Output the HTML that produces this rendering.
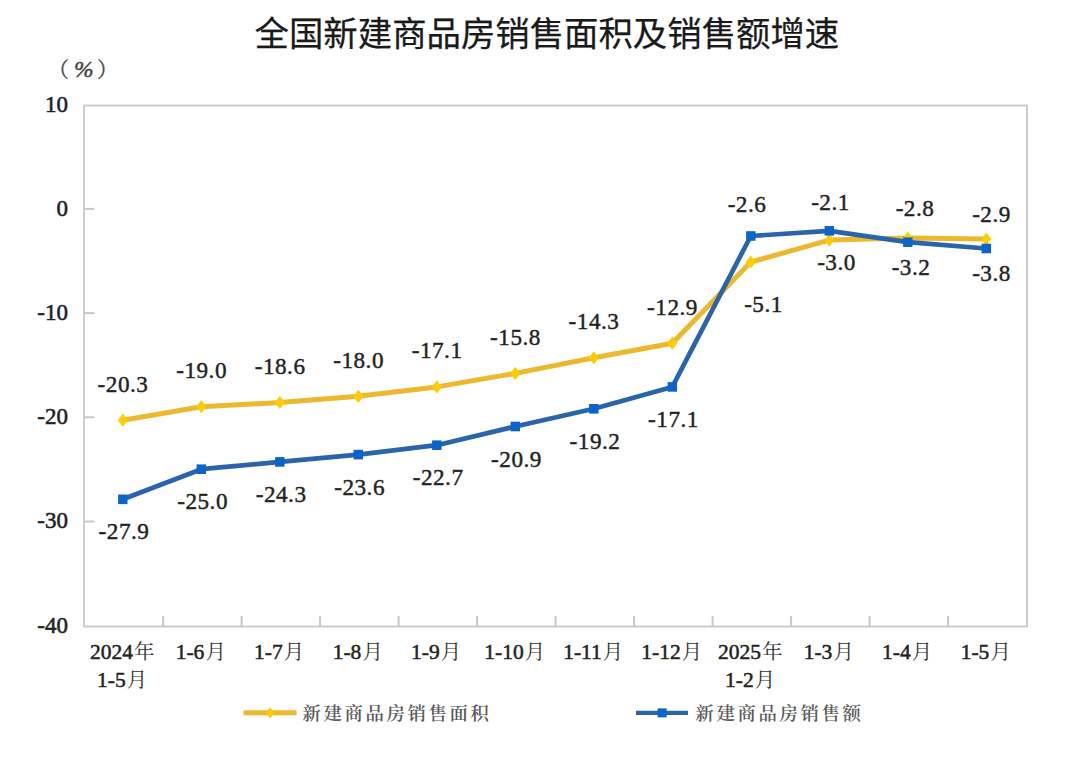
<!DOCTYPE html>
<html lang="zh-CN"><head><meta charset="utf-8"><title>全国新建商品房销售面积及销售额增速</title>
<style>
html,body{margin:0;padding:0;background:#fff;}
body{width:1080px;height:757px;overflow:hidden;}
svg{display:block;}
.t{font-family:"Noto Sans CJK SC","WenQuanYi Zen Hei",sans-serif;}
.n{font-family:"Liberation Serif","Noto Serif CJK SC",serif;}
.c{font-family:"Noto Serif CJK SC","Liberation Serif",serif;}
</style></head><body>
<svg width="1080" height="757" viewBox="0 0 1080 757">
<rect width="1080" height="757" fill="#fff"/>
<text class="t" x="546.9" y="46" font-size="34.4" text-anchor="middle" fill="#1a1a1a" stroke="#1a1a1a" stroke-width="0.25">全国新建商品房销售面积及销售额增速</text>
<text class="c" x="48" y="76.5" font-size="21" fill="#444" stroke="#444" stroke-width="0.3">（</text>
<text class="n" x="74" y="76.6" font-size="23.5" font-style="italic" fill="#444" stroke="#444" stroke-width="0.5">%</text>
<text class="c" x="97" y="76.5" font-size="21" fill="#444" stroke="#444" stroke-width="0.3">）</text>
<rect x="84" y="105.5" width="943" height="521" fill="none" stroke="#C8C8C8" stroke-width="1.8"/>
<text class="n" x="68" y="111.6" font-size="23" text-anchor="end" fill="#222" stroke="#222" stroke-width="0.55">10</text>
<line x1="84" y1="208.9" x2="94.5" y2="208.9" stroke="#C8C8C8" stroke-width="2"/>
<text class="n" x="68" y="215.8" font-size="23" text-anchor="end" fill="#222" stroke="#222" stroke-width="0.55">0</text>
<line x1="84" y1="313.1" x2="94.5" y2="313.1" stroke="#C8C8C8" stroke-width="2"/>
<text class="n" x="68" y="320.0" font-size="23" text-anchor="end" fill="#222" stroke="#222" stroke-width="0.55">-10</text>
<line x1="84" y1="417.3" x2="94.5" y2="417.3" stroke="#C8C8C8" stroke-width="2"/>
<text class="n" x="68" y="424.2" font-size="23" text-anchor="end" fill="#222" stroke="#222" stroke-width="0.55">-20</text>
<line x1="84" y1="521.5" x2="94.5" y2="521.5" stroke="#C8C8C8" stroke-width="2"/>
<text class="n" x="68" y="528.4" font-size="23" text-anchor="end" fill="#222" stroke="#222" stroke-width="0.55">-30</text>
<text class="n" x="68" y="632.6" font-size="23" text-anchor="end" fill="#222" stroke="#222" stroke-width="0.55">-40</text>
<line x1="163.1" y1="616" x2="163.1" y2="626" stroke="#C8C8C8" stroke-width="2"/>
<line x1="241.6" y1="616" x2="241.6" y2="626" stroke="#C8C8C8" stroke-width="2"/>
<line x1="320.1" y1="616" x2="320.1" y2="626" stroke="#C8C8C8" stroke-width="2"/>
<line x1="398.6" y1="616" x2="398.6" y2="626" stroke="#C8C8C8" stroke-width="2"/>
<line x1="477.1" y1="616" x2="477.1" y2="626" stroke="#C8C8C8" stroke-width="2"/>
<line x1="555.6" y1="616" x2="555.6" y2="626" stroke="#C8C8C8" stroke-width="2"/>
<line x1="634.1" y1="616" x2="634.1" y2="626" stroke="#C8C8C8" stroke-width="2"/>
<line x1="712.6" y1="616" x2="712.6" y2="626" stroke="#C8C8C8" stroke-width="2"/>
<line x1="791.1" y1="616" x2="791.1" y2="626" stroke="#C8C8C8" stroke-width="2"/>
<line x1="869.6" y1="616" x2="869.6" y2="626" stroke="#C8C8C8" stroke-width="2"/>
<line x1="948.1" y1="616" x2="948.1" y2="626" stroke="#C8C8C8" stroke-width="2"/>
<text class="n" x="122.2" y="658.6" font-size="21.5" text-anchor="middle" fill="#222"><tspan stroke="#222" stroke-width="0.5">2024</tspan><tspan class="c" font-size="20.5" dx="1" fill="#333">年</tspan></text>
<text class="n" x="122.2" y="687.1" font-size="21.5" text-anchor="middle" fill="#222"><tspan stroke="#222" stroke-width="0.5">1-5</tspan><tspan class="c" font-size="20.5" dx="1" fill="#333">月</tspan></text>
<text class="n" x="200.8" y="658.6" font-size="21.5" text-anchor="middle" fill="#222"><tspan stroke="#222" stroke-width="0.5">1-6</tspan><tspan class="c" font-size="20.5" dx="1" fill="#333">月</tspan></text>
<text class="n" x="279.2" y="658.6" font-size="21.5" text-anchor="middle" fill="#222"><tspan stroke="#222" stroke-width="0.5">1-7</tspan><tspan class="c" font-size="20.5" dx="1" fill="#333">月</tspan></text>
<text class="n" x="357.8" y="658.6" font-size="21.5" text-anchor="middle" fill="#222"><tspan stroke="#222" stroke-width="0.5">1-8</tspan><tspan class="c" font-size="20.5" dx="1" fill="#333">月</tspan></text>
<text class="n" x="436.2" y="658.6" font-size="21.5" text-anchor="middle" fill="#222"><tspan stroke="#222" stroke-width="0.5">1-9</tspan><tspan class="c" font-size="20.5" dx="1" fill="#333">月</tspan></text>
<text class="n" x="514.8" y="658.6" font-size="21.5" text-anchor="middle" fill="#222"><tspan stroke="#222" stroke-width="0.5">1-10</tspan><tspan class="c" font-size="20.5" dx="1" fill="#333">月</tspan></text>
<text class="n" x="593.2" y="658.6" font-size="21.5" text-anchor="middle" fill="#222"><tspan stroke="#222" stroke-width="0.5">1-11</tspan><tspan class="c" font-size="20.5" dx="1" fill="#333">月</tspan></text>
<text class="n" x="671.8" y="658.6" font-size="21.5" text-anchor="middle" fill="#222"><tspan stroke="#222" stroke-width="0.5">1-12</tspan><tspan class="c" font-size="20.5" dx="1" fill="#333">月</tspan></text>
<text class="n" x="750.2" y="658.6" font-size="21.5" text-anchor="middle" fill="#222"><tspan stroke="#222" stroke-width="0.5">2025</tspan><tspan class="c" font-size="20.5" dx="1" fill="#333">年</tspan></text>
<text class="n" x="750.2" y="687.1" font-size="21.5" text-anchor="middle" fill="#222"><tspan stroke="#222" stroke-width="0.5">1-2</tspan><tspan class="c" font-size="20.5" dx="1" fill="#333">月</tspan></text>
<text class="n" x="828.8" y="658.6" font-size="21.5" text-anchor="middle" fill="#222"><tspan stroke="#222" stroke-width="0.5">1-3</tspan><tspan class="c" font-size="20.5" dx="1" fill="#333">月</tspan></text>
<text class="n" x="907.2" y="658.6" font-size="21.5" text-anchor="middle" fill="#222"><tspan stroke="#222" stroke-width="0.5">1-4</tspan><tspan class="c" font-size="20.5" dx="1" fill="#333">月</tspan></text>
<text class="n" x="985.8" y="658.6" font-size="21.5" text-anchor="middle" fill="#222"><tspan stroke="#222" stroke-width="0.5">1-5</tspan><tspan class="c" font-size="20.5" dx="1" fill="#333">月</tspan></text>
<polyline points="122.8,420.2 201.3,406.7 279.8,402.5 358.3,396.3 436.8,386.9 515.3,373.4 593.8,357.8 672.3,343.2 750.8,262.0 829.3,240.1 907.8,238.0 986.3,239.1" fill="none" stroke="#EBB82E" stroke-width="5.0" stroke-linejoin="round"/>
<polyline points="122.8,499.3 201.3,469.2 279.8,461.9 358.3,454.6 436.8,445.2 515.3,426.5 593.8,408.8 672.3,386.9 750.8,236.0 829.3,230.8 907.8,242.2 986.3,248.5" fill="none" stroke="#2A65AC" stroke-width="4.7" stroke-linejoin="round"/>
<path d="M122.8 413.6L127.8 420.2L122.8 426.8L117.8 420.2Z" fill="#FFCC00"/>
<path d="M201.3 400.1L206.3 406.7L201.3 413.3L196.3 406.7Z" fill="#FFCC00"/>
<path d="M279.8 395.9L284.8 402.5L279.8 409.1L274.8 402.5Z" fill="#FFCC00"/>
<path d="M358.3 389.7L363.3 396.3L358.3 402.9L353.3 396.3Z" fill="#FFCC00"/>
<path d="M436.8 380.3L441.8 386.9L436.8 393.5L431.8 386.9Z" fill="#FFCC00"/>
<path d="M515.3 366.8L520.3 373.4L515.3 380.0L510.3 373.4Z" fill="#FFCC00"/>
<path d="M593.8 351.2L598.8 357.8L593.8 364.4L588.8 357.8Z" fill="#FFCC00"/>
<path d="M672.3 336.6L677.3 343.2L672.3 349.8L667.3 343.2Z" fill="#FFCC00"/>
<path d="M750.8 255.4L755.8 262.0L750.8 268.6L745.8 262.0Z" fill="#FFCC00"/>
<path d="M829.3 233.5L834.3 240.1L829.3 246.7L824.3 240.1Z" fill="#FFCC00"/>
<path d="M907.8 231.4L912.8 238.0L907.8 244.6L902.8 238.0Z" fill="#FFCC00"/>
<path d="M986.3 232.5L991.3 239.1L986.3 245.7L981.3 239.1Z" fill="#FFCC00"/>
<rect x="118.1" y="494.5" width="9.4" height="9.6" fill="#0A64CC"/>
<rect x="196.6" y="464.4" width="9.4" height="9.6" fill="#0A64CC"/>
<rect x="275.1" y="457.1" width="9.4" height="9.6" fill="#0A64CC"/>
<rect x="353.6" y="449.8" width="9.4" height="9.6" fill="#0A64CC"/>
<rect x="432.1" y="440.4" width="9.4" height="9.6" fill="#0A64CC"/>
<rect x="510.6" y="421.7" width="9.4" height="9.6" fill="#0A64CC"/>
<rect x="589.1" y="404.0" width="9.4" height="9.6" fill="#0A64CC"/>
<rect x="667.6" y="382.1" width="9.4" height="9.6" fill="#0A64CC"/>
<rect x="746.1" y="231.2" width="9.4" height="9.6" fill="#0A64CC"/>
<rect x="824.6" y="226.0" width="9.4" height="9.6" fill="#0A64CC"/>
<rect x="903.1" y="237.4" width="9.4" height="9.6" fill="#0A64CC"/>
<rect x="981.6" y="243.7" width="9.4" height="9.6" fill="#0A64CC"/>
<text class="n" x="123.0" y="391.6" font-size="23.2" letter-spacing="0.5" text-anchor="middle" fill="#222" stroke="#222" stroke-width="0.42">-20.3</text>
<text class="n" x="201.6" y="378.1" font-size="23.2" letter-spacing="0.5" text-anchor="middle" fill="#222" stroke="#222" stroke-width="0.42">-19.0</text>
<text class="n" x="280.1" y="373.9" font-size="23.2" letter-spacing="0.5" text-anchor="middle" fill="#222" stroke="#222" stroke-width="0.42">-18.6</text>
<text class="n" x="358.6" y="367.7" font-size="23.2" letter-spacing="0.5" text-anchor="middle" fill="#222" stroke="#222" stroke-width="0.42">-18.0</text>
<text class="n" x="437.1" y="358.3" font-size="23.2" letter-spacing="0.5" text-anchor="middle" fill="#222" stroke="#222" stroke-width="0.42">-17.1</text>
<text class="n" x="515.5" y="344.8" font-size="23.2" letter-spacing="0.5" text-anchor="middle" fill="#222" stroke="#222" stroke-width="0.42">-15.8</text>
<text class="n" x="594.0" y="329.2" font-size="23.2" letter-spacing="0.5" text-anchor="middle" fill="#222" stroke="#222" stroke-width="0.42">-14.3</text>
<text class="n" x="672.5" y="314.6" font-size="23.2" letter-spacing="0.5" text-anchor="middle" fill="#222" stroke="#222" stroke-width="0.42">-12.9</text>
<text class="n" x="763.5" y="312.0" font-size="23.2" letter-spacing="0.5" text-anchor="middle" fill="#222" stroke="#222" stroke-width="0.42">-5.1</text>
<text class="n" x="836.5" y="270.3" font-size="23.2" letter-spacing="0.5" text-anchor="middle" fill="#222" stroke="#222" stroke-width="0.42">-3.0</text>
<text class="n" x="915.0" y="216.2" font-size="23.2" letter-spacing="0.5" text-anchor="middle" fill="#222" stroke="#222" stroke-width="0.42">-2.8</text>
<text class="n" x="991.5" y="221.5" font-size="23.2" letter-spacing="0.5" text-anchor="middle" fill="#222" stroke="#222" stroke-width="0.42">-2.9</text>
<text class="n" x="124.0" y="539.3" font-size="23.2" letter-spacing="0.5" text-anchor="middle" fill="#222" stroke="#222" stroke-width="0.42">-27.9</text>
<text class="n" x="202.6" y="509.2" font-size="23.2" letter-spacing="0.5" text-anchor="middle" fill="#222" stroke="#222" stroke-width="0.42">-25.0</text>
<text class="n" x="281.1" y="501.9" font-size="23.2" letter-spacing="0.5" text-anchor="middle" fill="#222" stroke="#222" stroke-width="0.42">-24.3</text>
<text class="n" x="359.6" y="494.6" font-size="23.2" letter-spacing="0.5" text-anchor="middle" fill="#222" stroke="#222" stroke-width="0.42">-23.6</text>
<text class="n" x="438.1" y="485.2" font-size="23.2" letter-spacing="0.5" text-anchor="middle" fill="#222" stroke="#222" stroke-width="0.42">-22.7</text>
<text class="n" x="516.5" y="466.5" font-size="23.2" letter-spacing="0.5" text-anchor="middle" fill="#222" stroke="#222" stroke-width="0.42">-20.9</text>
<text class="n" x="595.0" y="448.8" font-size="23.2" letter-spacing="0.5" text-anchor="middle" fill="#222" stroke="#222" stroke-width="0.42">-19.2</text>
<text class="n" x="673.5" y="426.9" font-size="23.2" letter-spacing="0.5" text-anchor="middle" fill="#222" stroke="#222" stroke-width="0.42">-17.1</text>
<text class="n" x="747.0" y="212.2" font-size="23.2" letter-spacing="0.5" text-anchor="middle" fill="#222" stroke="#222" stroke-width="0.42">-2.6</text>
<text class="n" x="830.5" y="209.7" font-size="23.2" letter-spacing="0.5" text-anchor="middle" fill="#222" stroke="#222" stroke-width="0.42">-2.1</text>
<text class="n" x="911.0" y="274.8" font-size="23.2" letter-spacing="0.5" text-anchor="middle" fill="#222" stroke="#222" stroke-width="0.42">-3.2</text>
<text class="n" x="991.5" y="281.2" font-size="23.2" letter-spacing="0.5" text-anchor="middle" fill="#222" stroke="#222" stroke-width="0.42">-3.8</text>
<line x1="243.5" y1="712.8" x2="296.5" y2="712.8" stroke="#EBB82E" stroke-width="5"/>
<path d="M270 707L274 712.8L270 718.6L266 712.8Z" fill="#FFCC00"/>
<text class="c" x="302.5" y="720" font-size="18.4" letter-spacing="2.6" font-weight="600" fill="#5a5a5a">新建商品房销售面积</text>
<line x1="636" y1="712.9" x2="688" y2="712.9" stroke="#2A65AC" stroke-width="4.4"/>
<rect x="657.6" y="708.4" width="9" height="9" fill="#0A64CC"/>
<text class="c" x="695.5" y="720" font-size="18.4" letter-spacing="2.6" font-weight="600" fill="#5a5a5a">新建商品房销售额</text>
</svg>
</body></html>
